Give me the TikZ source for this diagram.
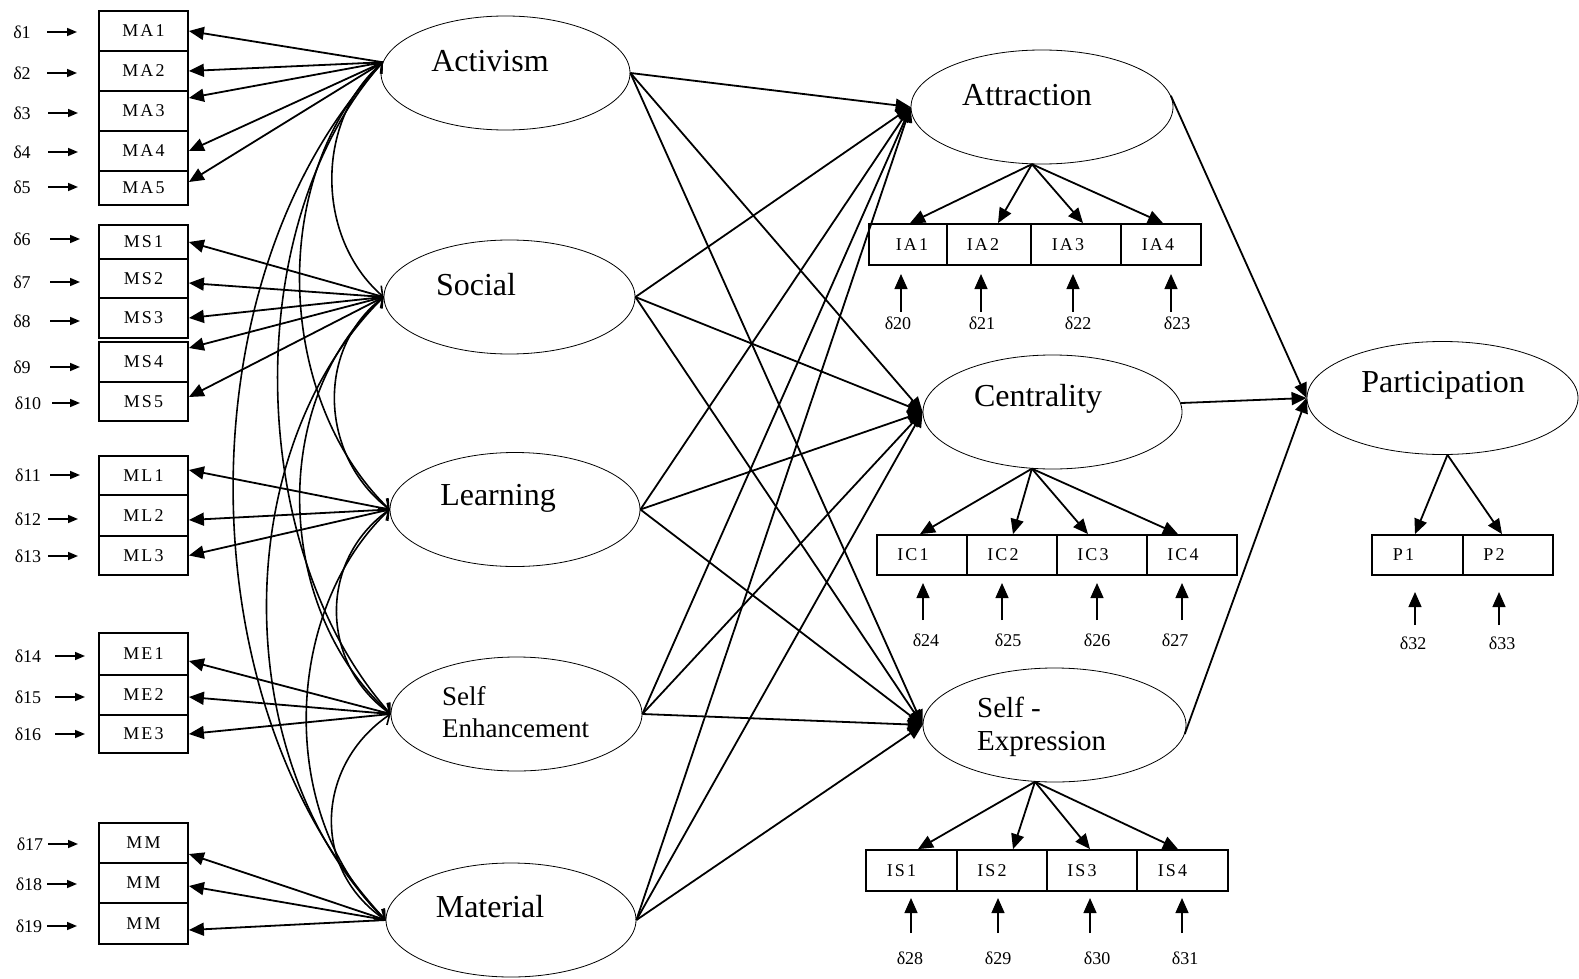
\documentclass[tikz,border=0pt]{standalone}
\usepackage{fontspec}
\setmainfont{Liberation Serif}
\newfontfamily\indfont[LetterSpace=12]{Liberation Serif}
\usetikzlibrary{arrows.meta,shapes.geometric}
\begin{document}
\begin{tikzpicture}[x=1pt,y=-1pt,
  lat/.style={draw, ellipse, line width=0.8pt, inner sep=0pt, minimum height=114pt},
  lt/.style={font=\fontsize{32}{34}\selectfont, inner sep=0pt},
  ind/.style={draw, rectangle, line width=1.8pt, inner sep=0pt, minimum width=89pt, font=\indfont\fontsize{18}{20}\selectfont},
  lab/.style={font=\indfont\fontsize{18}{20}\selectfont, inner sep=0pt},
  dl/.style={font=\fontsize{18}{20}\selectfont, inner sep=1pt},
  load/.style={line width=1.8pt, -{Triangle[length=15pt,width=13pt]}},
  la/.style={line width=1.6pt, -{Triangle[length=10pt,width=8pt]}},
  lb/.style={line width=1.3pt, -{Triangle[length=15pt,width=13pt]}},
  cov/.style={line width=1.6pt, {Straight Barb[length=8pt,width=14pt]}-{Straight Barb[length=8pt,width=14pt]}}
]
\fill[white] (0,0) rectangle (1579,979);
\useasboundingbox (0,0) rectangle (1579,979);

% latent variables
\node[lat, minimum width=249pt] (act) at (505.5,73) {};
\node[lat, minimum width=251pt] (soc) at (509.5,297) {};
\node[lat, minimum width=250pt] (lea) at (515,509.5) {};
\node[lat, minimum width=251pt] (sen) at (516.5,714) {};
\node[lat, minimum width=250pt] (mat) at (511,920) {};
\node[lat, minimum width=262pt] (att) at (1042,107) {};
\node[lat, minimum width=259pt] (cen) at (1052.5,412) {};
\node[lat, minimum width=263pt] (sex) at (1054.5,725) {};
\node[lat, minimum width=271pt, minimum height=113pt] (par) at (1442.5,398) {};

\node[lt] (actT) at (490,61) {Activism};
\node[lt] (socT) at (476,285) {Social};
\node[lt] (leaT) at (498,498) {Learning};
\node[lt, font=\fontsize{27}{32}\selectfont, anchor=west, align=left] (senT) at (442,712) {Self\\Enhancement};
\node[lt] (matT) at (490,907) {Material};
\node[lt] (attT) at (1027,95) {Attraction};
\node[lt] (cenT) at (1038,399) {Centrality};
\node[lt, font=\fontsize{29}{33}\selectfont, anchor=west, align=left] (sexT) at (977,726.5) {Self -\\Expression};
\node[lt] (parT) at (1443,385) {Participation};

% left indicators
\node[ind, minimum height=40pt] (ma1) at (143.5,31) {MA1};
\node[ind, minimum height=40pt] (ma2) at (143.5,71) {MA2};
\node[ind, minimum height=40pt] (ma3) at (143.5,111) {MA3};
\node[ind, minimum height=40pt] (ma4) at (143.5,151) {MA4};
\node[ind, minimum height=34pt] (ma5) at (143.5,188) {MA5};
\node[ind, minimum height=34pt] (ms1) at (143.5,242) {MS1};
\node[ind, minimum height=39pt] (ms2) at (143.5,278.5) {MS2};
\node[ind, minimum height=40pt] (ms3) at (143.5,318) {MS3};
\node[ind, minimum height=40pt] (ms4) at (143.5,362) {MS4};
\node[ind, minimum height=39pt] (ms5) at (143.5,401.5) {MS5};
\node[ind, minimum height=39pt] (ml1) at (143.5,475.5) {ML1};
\node[ind, minimum height=41pt] (ml2) at (143.5,515.5) {ML2};
\node[ind, minimum height=39pt] (ml3) at (143.5,555.5) {ML3};
\node[ind, minimum height=42pt] (me1) at (143.5,654) {ME1};
\node[ind, minimum height=40pt] (me2) at (143.5,695) {ME2};
\node[ind, minimum height=38pt] (me3) at (143.5,734) {ME3};
\node[ind, minimum height=40pt] (mm1) at (143.5,843) {MM};
\node[ind, minimum height=40pt] (mm2) at (143.5,883) {MM};
\node[ind, minimum height=41pt] (mm3) at (143.5,923.5) {MM};

% right indicators
\node[ind, minimum width=78pt, minimum height=41pt, label={[lab,xshift=4pt]center:IA1}] (ia1) at (908,244.5) {};
\node[ind, minimum width=84pt, minimum height=41pt, label={[lab,xshift=-6pt]center:IA2}] (ia2) at (989,244.5) {};
\node[ind, minimum width=90pt, minimum height=41pt, label={[lab,xshift=-8pt]center:IA3}] (ia3) at (1076,244.5) {};
\node[ind, minimum width=80pt, minimum height=41pt, label={[lab,xshift=-3pt]center:IA4}] (ia4) at (1161,244.5) {};
\node[ind, minimum width=90pt, minimum height=40pt, label={[lab,xshift=-9pt]center:IC1}] (ic1) at (922,555) {};
\node[ind, minimum width=90pt, minimum height=40pt, label={[lab,xshift=-9pt]center:IC2}] (ic2) at (1012,555) {};
\node[ind, minimum width=90pt, minimum height=40pt, label={[lab,xshift=-9pt]center:IC3}] (ic3) at (1102,555) {};
\node[ind, minimum width=90pt, minimum height=40pt, label={[lab,xshift=-9pt]center:IC4}] (ic4) at (1192,555) {};
\node[ind, minimum width=91pt, minimum height=41pt, label={[lab,xshift=-10pt]center:IS1}] (is1) at (911.5,870.5) {};
\node[ind, minimum width=90pt, minimum height=41pt, label={[lab,xshift=-10pt]center:IS2}] (is2) at (1002,870.5) {};
\node[ind, minimum width=90pt, minimum height=41pt, label={[lab,xshift=-10pt]center:IS3}] (is3) at (1092,870.5) {};
\node[ind, minimum width=91pt, minimum height=41pt, label={[lab,xshift=-10pt]center:IS4}] (is4) at (1182.5,870.5) {};
\node[ind, minimum width=91pt, minimum height=40pt, label={[lab,xshift=-14pt]center:P1}] (p1) at (1417.5,555) {};
\node[ind, minimum width=90pt, minimum height=40pt, label={[lab,xshift=-14pt]center:P2}] (p2) at (1508,555) {};

% left error terms
\foreach \i/\lx/\ly/\p/\q in {1/22/32/25/55, 2/22/73/25/55, 3/22/113/26/56, 4/22/152/26/56, 5/22/187/26/56,
  6/22/239/28/58, 7/22/282/28/58, 8/22/321/28/58, 9/22/367/28/58, 10/28/403/24/52,
  11/28/475/22/52, 12/28/519/20/50, 13/28/556/20/50, 14/28/656/27/57, 15/28/697/27/57,
  16/28/734/27/57, 17/30/844/18/48, 18/29/884/18/48, 19/29/926/18/48}{
  \node[dl] (d\i) at (\lx,\ly) {δ\i};
  \draw[la] ([xshift=\p pt]d\i.center) -- ([xshift=\q pt]d\i.center);
}

% bottom error terms
\foreach \i/\lx/\ly/\ax/\t/\h in {20/898/323/3/11/49, 21/982/323/-1/11/49, 22/1078/323/-5/11/49, 23/1177/323/-6/11/49,
  24/926/640/-3/20/57, 25/1008/640/-6/20/57, 26/1097/640/0/20/57, 27/1175/640/7/20/57,
  28/910/958/1/25/60, 29/998/958/0/25/60, 30/1097/958/-7/25/60, 31/1185/958/-3/25/60,
  32/1413/643/2/18/51, 33/1502/643/-3/18/51}{
  \node[dl] (d\i) at (\lx,\ly) {δ\i};
  \draw[lb] ([xshift=\ax pt, yshift=\t pt]d\i.center) -- ([xshift=\ax pt, yshift=\h pt]d\i.center);
}

% loadings of left latent variables
\draw[load] (act.175) -- (ma1.east);
\draw[load] (act.175) -- (ma2.east);
\draw[load] (act.175) -- ([yshift=13pt]ma3.east);
\draw[load] (act.175) -- (ma4.east);
\draw[load] (act.175) -- ([yshift=6pt]ma5.east);
\draw[load] (soc.west) -- (ms1.east);
\draw[load] (soc.west) -- ([yshift=-4.5pt]ms2.east);
\draw[load] (soc.west) -- (ms3.east);
\draw[load] (soc.west) -- ([yshift=14pt]ms4.east);
\draw[load] (soc.west) -- ([yshift=4.5pt]ms5.east);
\draw[load] (lea.west) -- ([yshift=5.5pt]ml1.east);
\draw[load] (lea.west) -- ([yshift=-4.5pt]ml2.east);
\draw[load] (lea.west) -- (ml3.east);
\draw[load] (sen.west) -- ([yshift=-7pt]me1.east);
\draw[load] (sen.west) -- ([yshift=-2pt]me2.east);
\draw[load] (sen.west) -- (me3.east);
\draw[load] (mat.west) -- ([yshift=-11pt]mm1.east);
\draw[load] (mat.west) -- ([yshift=-3pt]mm2.east);
\draw[load] (mat.west) -- ([yshift=-6.5pt]mm3.east);

% covariances
\draw[cov] (act.175) .. controls +(-68,59) and +(-68,-59) .. (soc.west);
\draw[cov] (soc.west) .. controls +(-69,53) and +(-69,-53) .. (lea.west);
\draw[cov] (lea.west) .. controls +(-71,51) and +(-71,-51) .. (sen.west);
\draw[cov] (sen.west) .. controls +(-75,51) and +(-75,-51) .. (mat.west);
\draw[cov] (act.175) .. controls +(-115,112) and +(-115,-112) .. (lea.west);
\draw[cov] (soc.west) .. controls +(-116,104) and +(-116,-104) .. (sen.west);
\draw[cov] (lea.west) .. controls +(-108,103) and +(-108,-103) .. (mat.west);
\draw[cov] (act.175) .. controls +(-145,163) and +(-145,-163) .. (sen.west);
\draw[cov] (soc.west) .. controls +(-157,156) and +(-157,-156) .. (mat.west);
\draw[cov] (act.175) .. controls +(-201,214) and +(-201,-214) .. (mat.west);

% structural paths
\foreach \s in {act,soc,lea,sen,mat}{
  \draw[load] (\s.east) -- (att.west);
  \draw[load] (\s.east) -- (cen.west);
  \draw[load] (\s.east) -- (sex.west);
}
\draw[load] (att.5) -- (par.west);
\draw[load] (cen.4) -- (par.west);
\draw[load] (sex.-4) -- (par.west);

% loadings of right latent variables
\draw[load] (att.-100) -- ([xshift=2pt]ia1.north);
\draw[load] (att.-100) -- ([xshift=9pt]ia2.north);
\draw[load] (att.-100) -- ([xshift=7pt]ia3.north);
\draw[load] (att.-100) -- ([xshift=2pt]ia4.north);
\draw[load] (cen.250) -- ([xshift=-2pt]ic1.north);
\draw[load] (cen.250) -- ([xshift=1pt]ic2.north);
\draw[load] (cen.250) -- ([xshift=-14pt]ic3.north);
\draw[load] (cen.250) -- ([xshift=-14pt]ic4.north);
\draw[load] (sex.251) -- ([xshift=6.5pt]is1.north);
\draw[load] (sex.251) -- ([xshift=11pt]is2.north);
\draw[load] (sex.251) -- ([xshift=-2pt]is3.north);
\draw[load] (sex.251) -- ([xshift=-4.5pt]is4.north);
\draw[load] (par.-85) -- ([xshift=-2.5pt]p1.north);
\draw[load] (par.-85) -- ([xshift=-6pt]p2.north);
\end{tikzpicture}
\end{document}
